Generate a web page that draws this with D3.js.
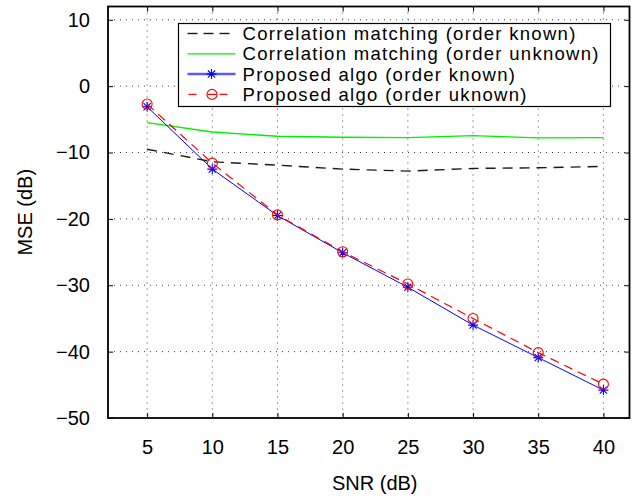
<!DOCTYPE html>
<html>
<head>
<meta charset="utf-8">
<script src="https://cdn.jsdelivr.net/npm/d3@7"></script>
<style>
  body { margin: 0; background: #fff; }
  text { font-family: "Liberation Sans", Arial, Helvetica, sans-serif; fill: #000; }
</style>
</head>
<body>
<div id="chart"></div>
<script>
// values
const snr = [5, 10, 15, 20, 25, 30, 35, 40];
const corrKnown = [-9.5, -11.4, -11.9, -12.5, -12.8, -12.4, -12.3, -12.1];
const corrUnknown = [-5.5, -6.9, -7.55, -7.7, -7.75, -7.45, -7.8, -7.75];
const propKnown = [-3.1, -12.5, -19.5, -25.1, -30.3, -36.0, -40.9, -45.8];
const propUnknown = [-2.7, -11.6, -19.4, -24.95, -29.8, -35.0, -40.15, -44.9];
const xTicks = [5, 10, 15, 20, 25, 30, 35, 40];
const yTicks = [-50, -40, -30, -20, -10, 0, 10];
const legendLabels = [
    "Correlation matching (order known)",
    "Correlation matching (order unknown)",
    "Proposed algo (order known)",
    "Proposed algo (order uknown)"
];

var margin = {top: 6.5, right: 8.5, bottom: 78, left: 108};
var width = 638 - margin.left - margin.right;
var height = 496 - margin.top - margin.bottom;

const svg = d3.select("#chart")
    .append("svg")
    .attr("width", 638)
    .attr("height", 496)
    .append("g")
    .attr("transform", `translate(${margin.left},${margin.top})`);

var x = d3.scaleLinear().domain([2, 42]).range([0, width]);
var y = d3.scaleLinear().domain([-50, 12]).range([height, 0]);

// dotted grid
svg.append("g")
    .selectAll("line")
    .data(xTicks)
    .enter().append("line")
    .attr("x1", d => x(d)).attr("x2", d => x(d))
    .attr("y1", 0).attr("y2", height)
    .attr("stroke", "#444").attr("stroke-width", 1)
    .attr("stroke-dasharray", "1,5");
svg.append("g")
    .selectAll("line")
    .data(yTicks.filter(d => d > -50))
    .enter().append("line")
    .attr("x1", 0).attr("x2", width)
    .attr("y1", d => y(d)).attr("y2", d => y(d))
    .attr("stroke", "#444").attr("stroke-width", 1)
    .attr("stroke-dasharray", "1,5");

// axes, ticks pointing inward (matlab style) on all four sides
const fmt = d => String(d).replace("-", "\u2212");
svg.append("g")
    .attr("transform", `translate(0,${height})`)
    .call(d3.axisBottom(x).tickValues(xTicks).tickSizeInner(-5).tickSizeOuter(0).tickPadding(22).tickFormat(fmt));
svg.append("g")
    .call(d3.axisLeft(y).tickValues(yTicks).tickSizeInner(-5).tickSizeOuter(0).tickPadding(18).tickFormat(fmt));
svg.append("g")
    .call(d3.axisTop(x).tickValues(xTicks).tickSizeInner(-5).tickSizeOuter(0).tickFormat(""));
svg.append("g")
    .attr("transform", `translate(${width},0)`)
    .call(d3.axisRight(y).tickValues(yTicks).tickSizeInner(-5).tickSizeOuter(0).tickFormat(""));
svg.selectAll(".domain").remove();
svg.selectAll(".tick line").attr("stroke", "#000").attr("stroke-width", 1);
svg.selectAll(".tick text").style("font-size", "20px").style("font-family", '"Liberation Sans", Arial, sans-serif');

// box
svg.append("rect")
    .attr("x", 0).attr("y", 0)
    .attr("width", width).attr("height", height)
    .attr("fill", "none").attr("stroke", "#000").attr("stroke-width", 1.8);

// series
const series = [
    {vals: corrKnown, color: "#1a1a1a", dash: "10,7", w: 1.4, marker: null},
    {vals: corrUnknown, color: "#00ee00", dash: null, w: 1.4, marker: null},
    {vals: propKnown, color: "#0000ff", dash: null, w: 1, marker: "star"},
    {vals: propUnknown, color: "#ff0000", dash: "9,6", w: 1.2, marker: "circle"}
];
const line = d3.line().x(d => x(d[0])).y(d => y(d[1]));

function starPath(s) {
    let a = s * 0.72;
    return `M${-s},0L${s},0M0,${-s}L0,${s}M${-a},${-a}L${a},${a}M${-a},${a}L${a},${-a}`;
}
function drawMarker(g, kind, color) {
    if (kind === "star") {
        g.append("path").attr("d", starPath(5)).attr("stroke", color).attr("stroke-width", 1.1).attr("fill", "none");
    } else if (kind === "circle") {
        g.append("circle").attr("r", 5).attr("stroke", color).attr("stroke-width", 1.1).attr("fill", "none");
    }
}

series.forEach(s => {
    let pts = snr.map((v, i) => [v, s.vals[i]]);
    svg.append("path")
        .datum(pts)
        .attr("d", line)
        .attr("fill", "none")
        .attr("stroke", s.color)
        .attr("stroke-width", s.w)
        .attr("stroke-dasharray", s.dash);
    if (s.marker) {
        pts.forEach(p => {
            let g = svg.append("g").attr("transform", `translate(${x(p[0])},${y(p[1])})`);
            drawMarker(g, s.marker, s.color);
        });
    }
});

// legend
const lg = svg.append("g").attr("transform", `translate(${178.5 - margin.left},${23.5 - margin.top})`);
lg.append("rect")
    .attr("width", 432).attr("height", 83)
    .attr("fill", "#fff").attr("stroke", "#000").attr("stroke-width", 1.2);
legendLabels.forEach((lab, i) => {
    let s = series[i];
    let cy = 10 + i * 20.3;
    if (i === 0) {
        [[9, 19], [25, 35], [41, 51]].forEach(d => {
            lg.append("line").attr("x1", d[0]).attr("x2", d[1]).attr("y1", cy).attr("y2", cy)
                .attr("stroke", s.color).attr("stroke-width", 1.4);
        });
    } else if (i === 3) {
        [[10, 18], [41, 49]].forEach(d => {
            lg.append("line").attr("x1", d[0]).attr("x2", d[1]).attr("y1", cy).attr("y2", cy)
                .attr("stroke", s.color).attr("stroke-width", 1.2);
        });
        lg.append("line").attr("x1", 29).attr("x2", 38).attr("y1", cy).attr("y2", cy)
            .attr("stroke", s.color).attr("stroke-width", 1.2);
        let g = lg.append("g").attr("transform", `translate(33.5,${cy})`);
        drawMarker(g, s.marker, s.color);
    } else {
        lg.append("line").attr("x1", 9).attr("x2", 57).attr("y1", cy).attr("y2", cy)
            .attr("stroke", i === 2 ? "#5a5aff" : s.color).attr("stroke-width", i === 2 ? 2.5 : 1.2);
        if (s.marker) {
            let g = lg.append("g").attr("transform", `translate(33,${cy})`);
            drawMarker(g, s.marker, s.color);
        }
    }
    lg.append("text")
        .attr("x", 64).attr("y", cy + 6.5)
        .style("font-size", "18.5px")
        .style("letter-spacing", "1.3px")
        .text(lab);
});

// axis labels
svg.append("text")
    .attr("x", width / 2 + 6)
    .attr("y", height + 72)
    .style("text-anchor", "middle")
    .style("font-size", "20px")
    .text("SNR (dB)");
svg.append("text")
    .attr("transform", `translate(${32 - margin.left},${height / 2})rotate(-90)`)
    .style("text-anchor", "middle")
    .style("font-size", "20px")
    .text("MSE (dB)");
</script>
</body>
</html>
